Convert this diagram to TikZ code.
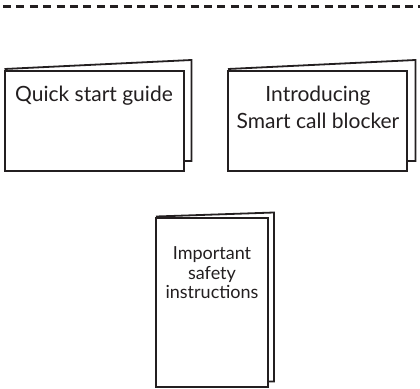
\documentclass[tikz,border=0pt]{standalone}
\usepackage{fontspec}
\setmainfont{Lato}
\definecolor{ink}{HTML}{231F20}
\tikzset{
  sheet/.style={draw=ink,line width=2pt,fill=white,line join=miter},
  backsheet/.style={draw=ink,line width=1.8pt,fill=white,line join=miter},
  label/.style={text=ink,font=\fontsize{21}{27}\selectfont,align=center,inner sep=0pt,anchor=base},
  labelsmall/.style={text=ink,font=\fontsize{18}{19.5}\selectfont,align=center,inner sep=0pt},
  cut/.style={draw=ink,line width=2.4pt,dash pattern=on 8pt off 5.4pt}
}
\begin{document}
\begin{tikzpicture}[x=1pt,y=-1pt]
\useasboundingbox (0,0) rectangle (420,388);
\coordinate (cutL) at (3,6.5);
\coordinate (cutR) at (420,6.5);
\draw[cut] (cutL) -- (cutR);
% booklet 1
\draw[backsheet] (4.5,69) -- (191.5,60) -- (191.5,161) -- (183.5,161);
\draw[sheet] (4.5,71) rectangle (183.5,170.5);
\node[label] (quick) at (94,101) {Quick start guide};
% booklet 2
\draw[backsheet] (228,69) -- (415.5,60) -- (415.5,161) -- (407,161);
\draw[sheet] (228,71) rectangle (407,170.5);
\node[label] (intro) at (318,101) {Introducing};
\node[label] (smart) at (318,128) {Smart call blocker};
% booklet 3
\draw[backsheet] (156,216.5) -- (274,212.5) -- (274,381.5) -- (268,381.5);
\draw[sheet] (156,218) rectangle (268,387);
\node[labelsmall] (safety) at (212,273) {Important\\safety\\instructions};
\end{tikzpicture}
\end{document}
